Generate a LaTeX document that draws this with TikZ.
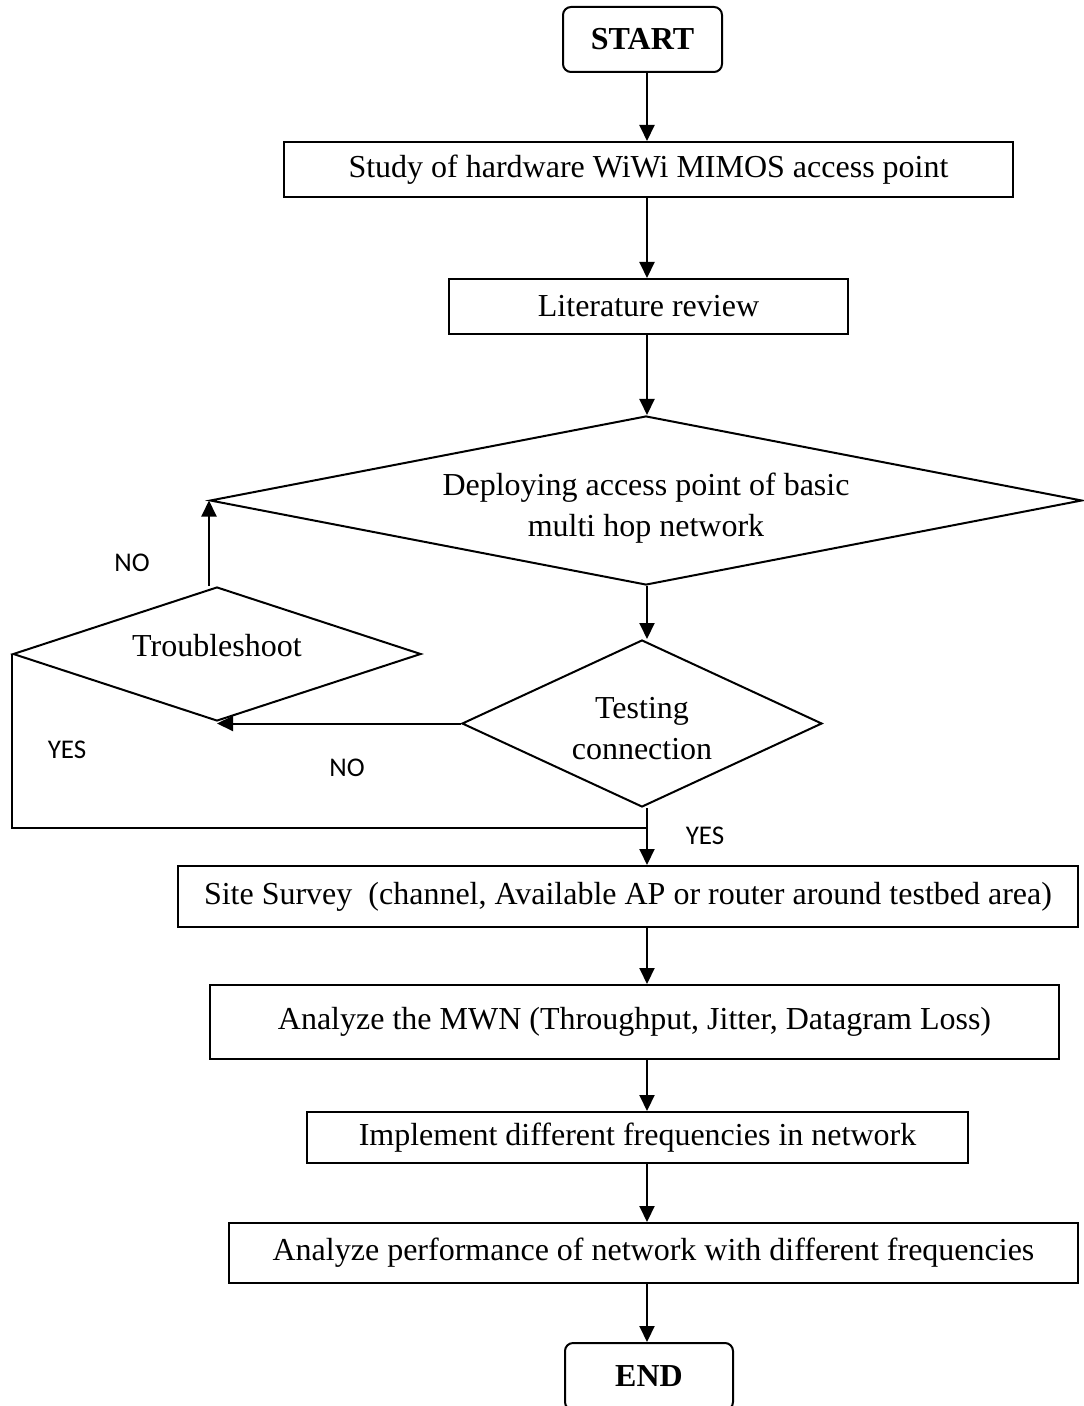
\documentclass[tikz,border=0pt]{standalone}
\usepackage{fontspec}
\setmainfont{Liberation Serif}
\newfontfamily\lblfont{Carlito}
\usetikzlibrary{shapes.geometric,arrows.meta}
\begin{document}
\begin{tikzpicture}[x=0.5pt,y=-0.5pt,line width=1pt,>={Triangle[length=8pt,width=7.5pt]}]
\tikzstyle{every node}=[font=\fontsize{16}{20.5}\selectfont,inner sep=0pt]
\tikzstyle{box}=[draw,rectangle]
\tikzstyle{term}=[draw,rectangle,rounded corners=4pt,font=\fontsize{16}{20.5}\selectfont\bfseries]
\tikzstyle{dec}=[draw,diamond,align=center]
\tikzstyle{lbl}=[font=\lblfont\fontsize{13.5}{16}\selectfont]
\useasboundingbox (0,0) rectangle (1083,1406);
\coordinate (spine) at (647,0);
\coordinate (join) at (647,828);
% main column
\node[term,minimum width=79.5pt,minimum height=32.5pt](start) at (642.5,39.5) {START};
\node[box,minimum width=364.5pt,minimum height=27.5pt](study) at (648.5,169.5) {Study of hardware WiWi MIMOS access point};
\node[box,minimum width=199.5pt,minimum height=27.5pt](lit) at (648.5,306.5) {Literature review};
\node[dec,aspect=5.16,text height=39pt,minimum width=436pt,minimum height=84.5pt](deploy) at (646,500.5) {Deploying access point of basic\\multi hop network};
\node[dec,aspect=2.16,text height=36pt,minimum width=180pt,minimum height=83.5pt](test) at (642,723.5) {Testing\\connection};
\node[dec,aspect=3.04,text depth=9pt,minimum width=204pt,minimum height=67pt](trouble) at (217,654) {Troubleshoot};
\node[box,minimum width=450pt,minimum height=30.5pt](site) at (628,896.5) {Site Survey\ \ (channel, Available AP or router around testbed area)};
\node[box,minimum width=424.5pt,minimum height=37pt](mwn) at (634.5,1022) {Analyze the MWN (Throughput, Jitter, Datagram Loss)};
\node[box,minimum width=330.5pt,minimum height=25.5pt](impl) at (637.5,1137.5) {Implement different frequencies in network};
\node[box,minimum width=424.5pt,minimum height=30pt](perf) at (653.5,1253) {Analyze performance of network with different frequencies};
\node[term,minimum width=84pt,minimum height=33.5pt](stop) at (649,1376.5) {END};
% labels
\node[lbl](no1) at (132,563) {NO};
\node[lbl](yes1) at (67,750) {YES};
\node[lbl](no2) at (347,768) {NO};
\node[lbl](yes2) at (705,836) {YES};
% connectors
\draw[->] (start.south -| spine) -- (study.north -| spine);
\draw[->] (study.south -| spine) -- (lit.north -| spine);
\draw[->] (lit.south -| spine) -- (deploy.north -| spine);
\draw[->] (deploy.south -| spine) -- (test.north -| spine);
\draw[->] (test.west) -- (test.west -| trouble.south);
\draw[->] (trouble.north -| deploy.west) -- (deploy.west);
\draw (trouble.west) |- (join);
\draw[->] (test.south -| spine) -- (site.north -| spine);
\draw[->] (site.south -| spine) -- (mwn.north -| spine);
\draw[->] (mwn.south -| spine) -- (impl.north -| spine);
\draw[->] (impl.south -| spine) -- (perf.north -| spine);
\draw[->] (perf.south -| spine) -- (stop.north -| spine);
\end{tikzpicture}
\end{document}
